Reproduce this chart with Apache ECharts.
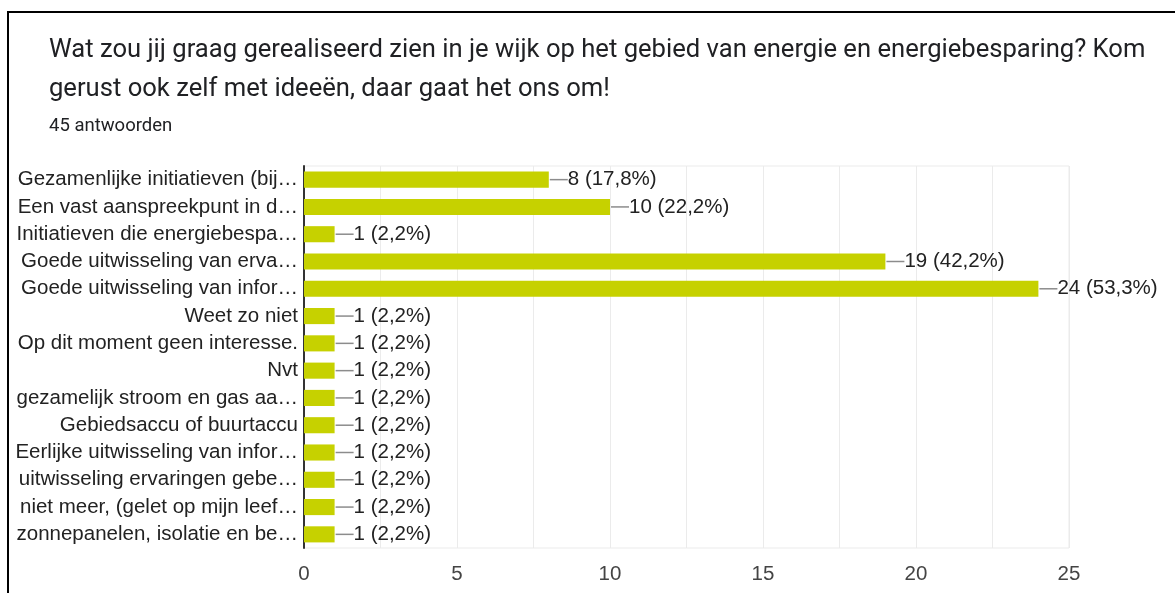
<html>
<head>
<meta charset="utf-8">
<title>Energie in de wijk</title>
<script src="https://cdn.jsdelivr.net/npm/echarts@6/dist/echarts.min.js"></script>
</head>
<body>
<style>
    html, body, #main {
        width: 100%;
        height: 100%;
        margin: 0;
        background: #fff;
    }
    #frame {
        position: absolute;
        left: 7px;
        top: 11px;
        right: -4px;
        bottom: -4px;
        border-top: 2px solid #000;
        border-left: 2px solid #000;
        pointer-events: none;
    }
</style>
<div id="main"></div>
<div id="frame"></div>

<script>
// answers as shown in the form summary (already cut off)
const answers = [
    'Gezamenlijke initiatieven (bij…',
    'Een vast aanspreekpunt in d…',
    'Initiatieven die energiebespa…',
    'Goede uitwisseling van erva…',
    'Goede uitwisseling van infor…',
    'Weet zo niet',
    'Op dit moment geen interesse.',
    'Nvt',
    'gezamelijk stroom en gas aa…',
    'Gebiedsaccu of buurtaccu',
    'Eerlijke uitwisseling van infor…',
    'uitwisseling ervaringen gebe…',
    'niet meer, (gelet op mijn leef…',
    'zonnepanelen, isolatie en be…'
];
const counts = [8, 10, 1, 19, 24, 1, 1, 1, 1, 1, 1, 1, 1, 1];
const totalAnswers = 45;
const xTicks = [0, 5, 10, 15, 20, 25];

var myChart = echarts.init(document.getElementById('main'));

option = {
    animation: false,
    title: {
        text: 'Wat zou jij graag gerealiseerd zien in je wijk op het gebied van energie en energiebesparing? Kom\ngerust ook zelf met ideeën, daar gaat het ons om!',
        subtext: totalAnswers + ' antwoorden',
        left: 44,
        top: 26,
        itemGap: 8,
        textStyle: {
            fontFamily: 'Roboto',
            fontWeight: 'normal',
            fontSize: 25.6,
            lineHeight: 39,
            color: '#202124'
        },
        subtextStyle: {
            fontFamily: 'Roboto',
            fontSize: 18.5,
            color: '#202124'
        }
    },
    grid: {
        left: 304,
        right: 106,
        top: 166,
        bottom: 45,
        show: true,
        borderColor: '#ebebeb',
        borderWidth: 1
    },
    xAxis: {
        type: 'value',
        min: xTicks[0],
        max: xTicks[xTicks.length - 1],
        interval: 5,
        axisLine: {show: false},
        axisTick: {show: false},
        axisLabel: {
            margin: 16,
            fontFamily: 'Liberation Sans',
            fontSize: 20.5,
            color: '#444'
        },
        splitLine: {lineStyle: {color: '#ebebeb'}},
        minorTick: {show: false, splitNumber: 2},
        minorSplitLine: {show: true, lineStyle: {color: '#ebebeb'}}
    },
    yAxis: {
        type: 'category',
        inverse: true,
        data: answers,
        axisTick: {show: false},
        axisLine: {lineStyle: {color: '#333', width: 2}},
        axisLabel: {
            interval: 0,
            margin: 6,
            fontFamily: 'Liberation Sans',
            fontSize: 20.5,
            color: '#222'
        }
    },
    series: [
        {
            name: 'antwoorden',
            type: 'bar',
            data: counts,
            barCategoryGap: '41%',
            itemStyle: {color: '#c6d100'},
            label: {
                show: true,
                position: 'right',
                distance: 1,
                formatter: function (p) {
                    var pct = (p.value / totalAnswers * 100).toFixed(1).replace('.', ',');
                    return '{ln|}{t|' + p.value + ' (' + pct + '%)}';
                },
                rich: {
                    ln: {width: 18, height: 1.5, backgroundColor: '#8c8c8c'},
                    t: {
                        fontFamily: 'Liberation Sans',
                        fontSize: 20.5,
                        color: '#222'
                    }
                }
            }
        }
    ]
};
myChart.setOption(option);
</script>
</body>
</html>
